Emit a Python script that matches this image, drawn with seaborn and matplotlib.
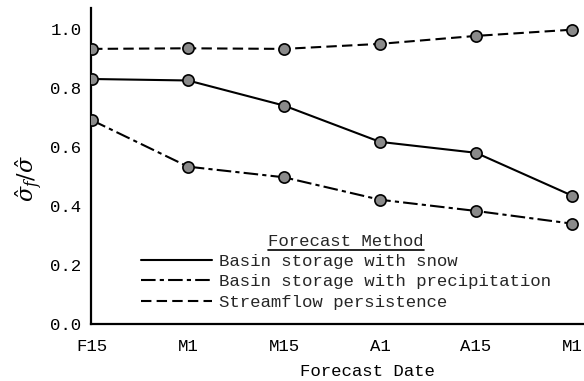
import matplotlib
matplotlib.use("Agg")
import matplotlib.pyplot as plt
import seaborn as sns
import pandas as pd
from matplotlib.lines import Line2D

# Forecast dates (day 15 of Feb through May 1)
dates = ["F15", "M1", "M15", "A1", "A15", "M1"]
positions = [0, 1, 2, 3, 4, 5]

methods = [
    "Basin storage with snow",
    "Basin storage with precipitation",
    "Streamflow persistence",
]
snow = [0.83, 0.825, 0.74, 0.617, 0.58, 0.435]
precip = [0.69, 0.533, 0.497, 0.421, 0.383, 0.34]
persistence = [0.932, 0.934, 0.932, 0.949, 0.976, 0.997]

yticks = [0.0, 0.2, 0.4, 0.6, 0.8, 1.0]

df = pd.DataFrame({
    "pos": positions * 3,
    "ratio": snow + precip + persistence,
    "method": [m for m in methods for _ in positions],
})

sns.set_theme(style="white")
plt.rcParams["font.family"] = ["Liberation Mono", "DejaVu Sans Mono"]
plt.rcParams["mathtext.fontset"] = "dejavuserif"

fig = plt.figure(figsize=(5.84, 3.81), dpi=100)
ax = fig.add_axes([0.156, 0.1496, 0.945, 0.829])

dashes = {
    methods[0]: "",
    methods[1]: (7, 2, 2, 2),
    methods[2]: (5, 2.5),
}
sns.lineplot(
    data=df, x="pos", y="ratio", hue="method", style="method",
    palette=["black"] * 3, dashes=dashes, markers=False,
    linewidth=1.5, ax=ax, legend=False,
)
# circular plotting symbols at each forecast date
for vals in (snow, precip, persistence):
    sns.scatterplot(x=positions, y=vals, ax=ax, s=65, color="#8a8a8a",
                    edgecolor="black", linewidth=1.2, zorder=5, legend=False)

ax.set_xlim(-0.01, 5.74)
ax.set_ylim(0, 1.07)
ax.set_xticks(positions)
ax.set_xticklabels(dates)
ax.set_yticks(yticks)
ax.set_yticklabels([f"{v:.1f}" for v in yticks])
ax.tick_params(axis="both", direction="in", length=5, width=1.2,
               labelsize=12.5, colors="black")
ax.tick_params(axis="y", pad=7)
ax.tick_params(axis="x", pad=11)
for side in ("top", "right"):
    ax.spines[side].set_visible(False)
for side in ("left", "bottom"):
    ax.spines[side].set_color("black")
    ax.spines[side].set_linewidth(1.6)

ax.set_xlabel("Forecast Date", fontsize=12.5, color="black", labelpad=7)
ax.set_ylabel(r"$\hat{\sigma}_f/\hat{\sigma}$", fontsize=16, color="black")
ax.yaxis.set_label_coords(-0.085, 0.46)

handles = [
    Line2D([], [], color="black", lw=1.5, dashes=dashes[m]) if dashes[m]
    else Line2D([], [], color="black", lw=1.5)
    for m in methods
]
leg = ax.legend(
    handles, methods, title="Forecast Method", fontsize=12.5,
    title_fontsize=12.5, frameon=False, handlelength=4.1,
    handletextpad=0.4, labelspacing=0.3, borderpad=0,
    loc="upper left", bbox_to_anchor=(132 / 584, 1 - 225 / 381),
    bbox_transform=fig.transFigure,
)

# underline the legend title
fig.canvas.draw()
bb = leg.get_title().get_window_extent().transformed(fig.transFigure.inverted())
fig.add_artist(Line2D([bb.x0, bb.x1], [bb.y0 - 0.004, bb.y0 - 0.004],
                      color="black", lw=1.2, transform=fig.transFigure))

fig.savefig("out.png", dpi=100)
